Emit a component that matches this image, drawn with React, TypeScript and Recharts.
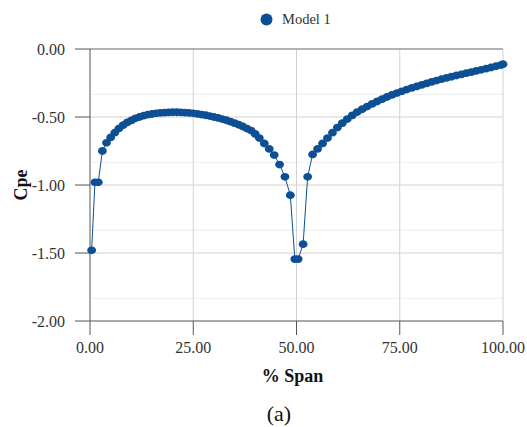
import React from "react";
import { LineChart, Line, XAxis, YAxis, CartesianGrid, ReferenceLine } from "recharts";

const spanPct = [
  0.4, 1.2, 2, 3, 4, 5, 6, 7, 8, 9, 10, 11, 12, 13, 14, 15, 16, 17, 18, 19, 20,
  21, 22, 23, 24, 25, 26, 27, 28, 29, 30, 31, 32, 33, 34, 35, 36, 37, 38, 39, 40,
  41, 42.2, 43.4, 44.6, 45.9, 47.2, 48.5, 49.6, 50.4, 51.6, 52.7, 53.9,
  55.1, 56.3, 57.5, 58.7, 59.9, 61.1, 62.3, 63.5, 64.7, 65.9, 67.1, 68.3, 69.5,
  70.7, 71.9, 73.1, 74.3, 75.5, 76.7, 77.9, 79.1, 80.3, 81.5, 82.7, 83.9, 85.1,
  86.3, 87.5, 88.7, 89.9, 91.1, 92.3, 93.5, 94.7, 95.9, 97.1, 98.3, 99.5, 100,
];

const cpe = [
  -1.48, -0.98, -0.98, -0.75, -0.69, -0.65, -0.615, -0.585, -0.56, -0.54, -0.525,
  -0.51, -0.5, -0.49, -0.483, -0.478, -0.473, -0.47, -0.468, -0.466, -0.465,
  -0.465, -0.466, -0.468, -0.47, -0.473, -0.477, -0.482, -0.487, -0.493, -0.5,
  -0.507, -0.515, -0.524, -0.534, -0.545, -0.557, -0.57, -0.585, -0.6, -0.625,
  -0.655, -0.695, -0.735, -0.78, -0.85, -0.94, -1.075, -1.545, -1.545, -1.435, -0.94, -0.775,
  -0.735, -0.695, -0.655, -0.615, -0.578, -0.545, -0.515, -0.488, -0.464, -0.443, -0.423, -0.404, -0.386,
  -0.369, -0.353, -0.338, -0.324, -0.311, -0.298, -0.286, -0.275, -0.264, -0.253, -0.242, -0.232, -0.222,
  -0.213, -0.204, -0.195, -0.187, -0.178, -0.17, -0.161, -0.153, -0.145, -0.136, -0.127, -0.118, -0.112,
];

const xTicks = [0, 25, 50, 75, 100];
const yTicks = [0, -0.5, -1, -1.5, -2];
const majorGrid = [-0.5, -1, -1.5];
const minorGrid = [-0.1667, -0.3333, -0.6667, -0.8333, -1.1667, -1.3333, -1.6667, -1.8333];
const verticalGrid = [25, 50, 75, 100];

const BLUE = "#0d4f94";
const SERIF = "'Liberation Serif', 'Times New Roman', serif";

const data = spanPct.map((x, i) => ({ x, cpe: cpe[i] }));

function XTitle(props: any) {
  const vb = props.viewBox;
  return (
    <text
      x={vb.x + vb.width / 2 - 4}
      y={vb.y + 61}
      textAnchor="middle"
      fontFamily={SERIF}
      fontWeight="bold"
      fontSize={18}
      fill="#111"
    >
      % Span
    </text>
  );
}

function YTitle(props: any) {
  const vb = props.viewBox;
  const cx = 21;
  const cy = vb.y + vb.height / 2;
  return (
    <text
      x={cx}
      y={cy}
      transform={`rotate(-90 ${cx} ${cy})`}
      textAnchor="middle"
      dominantBaseline="central"
      fontFamily={SERIF}
      fontWeight="bold"
      fontSize={18}
      fill="#111"
    >
      Cpe
    </text>
  );
}

const tickStyle = { fill: "#333", fontSize: 16, fontFamily: SERIF };

export default function App() {
  return (
    <div style={{ position: "absolute", left: 0, top: 0, width: 527, height: 427, background: "#fff" }}>
      <div
        style={{
          position: "absolute",
          left: 260,
          top: 9,
          height: 20,
          display: "flex",
          alignItems: "center",
          fontFamily: SERIF,
          fontSize: 14.5,
          color: "#333",
        }}
      >
        <svg width={13} height={13}>
          <circle cx={6.5} cy={6.5} r={6} fill={BLUE} />
        </svg>
        <span style={{ marginLeft: 9 }}>Model 1</span>
      </div>
      <LineChart
        width={527}
        height={427}
        data={data}
        margin={{ top: 49, right: 24, bottom: 56, left: 30 }}
      >
        <CartesianGrid horizontalValues={minorGrid} vertical={false} stroke="#eeeeee" />
        <CartesianGrid horizontalValues={majorGrid} verticalValues={verticalGrid} stroke="#d2d2d2" />
        <XAxis
          type="number"
          dataKey="x"
          domain={[0, 100]}
          ticks={xTicks}
          tickFormatter={(v) => Number(v).toFixed(2)}
          tickSize={14}
          tickMargin={7}
          height={50}
          stroke="#555"
          tick={tickStyle}
          label={<XTitle />}
        />
        <YAxis
          type="number"
          domain={[-2, 0]}
          ticks={yTicks}
          tickFormatter={(v) => Number(v).toFixed(2)}
          tickSize={15}
          tickMargin={10}
          width={60}
          stroke="#555"
          tick={tickStyle}
          label={<YTitle />}
        />
        <ReferenceLine y={0} stroke="#666" />
        <Line
          type="linear"
          dataKey="cpe"
          stroke={BLUE}
          strokeWidth={1}
          isAnimationActive={false}
          activeDot={false}
          dot={(p: any) => (
            <ellipse key={`d${p.index}`} cx={p.cx} cy={p.cy} rx={4.4} ry={3.9} fill={BLUE} />
          )}
        />
      </LineChart>
      <div
        style={{
          position: "absolute",
          left: 229,
          width: 100,
          top: 401,
          textAlign: "center",
          fontFamily: SERIF,
          fontSize: 22,
          color: "#111",
        }}
      >
        (a)
      </div>
    </div>
  );
}
